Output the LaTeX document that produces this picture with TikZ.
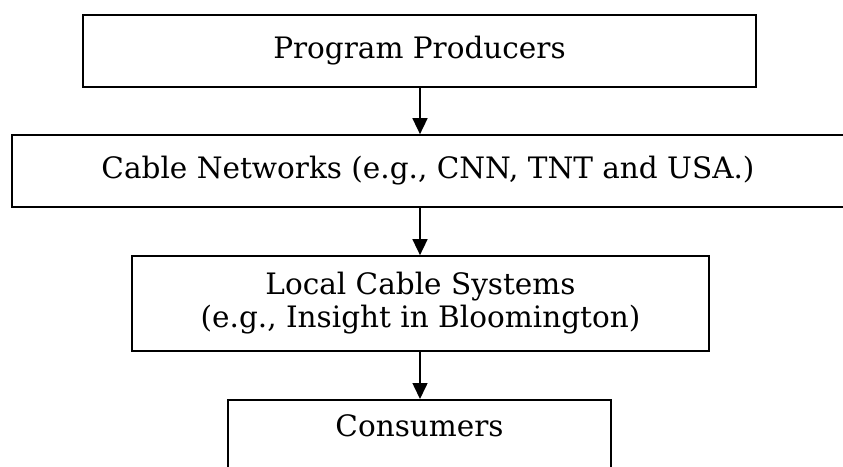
\documentclass[tikz,border=0pt]{standalone}
\usepackage{fontspec}
\setmainfont{DejaVu Serif}
\usetikzlibrary{arrows.meta}
\tikzset{
  flowbox/.style={draw=black, line width=1.7pt, inner sep=0pt, align=center,
    font=\fontsize{29.5}{33}\selectfont},
  flowarrow/.style={line width=1.6pt, -{Triangle[width=15pt,length=16pt]}}
}
\begin{document}
\begin{tikzpicture}[x=1pt,y=1pt]
  \useasboundingbox (0,0) rectangle (843,466);
  \clip (0,0) rectangle (843,466);
  % the four stages of the supply chain
  \node[flowbox, minimum width=673pt, minimum height=72pt] (prod) at (419.5,415) {Program Producers};
  \node[flowbox, minimum width=832pt, minimum height=72pt] (net) at (428,295) {Cable Networks (e.g., CNN, TNT and USA.)};
  \node[flowbox, minimum width=577pt, minimum height=95pt] (local) at (420.5,162.5) {Local Cable Systems\\(e.g., Insight in Bloomington)};
  \node[flowbox, minimum width=383pt, text height=37pt, text depth=120pt, anchor=north] (cons) at (419.5,67) {Consumers};
  % connectors on a common vertical axis
  \coordinate (axis) at (420,0);
  \draw[flowarrow] (prod.south -| axis) -- (net.north -| axis);
  \draw[flowarrow] (net.south -| axis) -- (local.north -| axis);
  \draw[flowarrow] (local.south -| axis) -- (cons.north -| axis);
\end{tikzpicture}
\end{document}
